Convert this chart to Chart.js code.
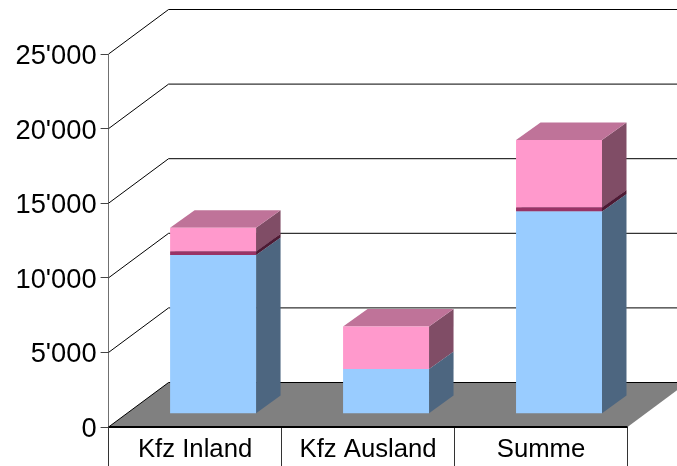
<!DOCTYPE html>
<html><head><meta charset="utf-8">
<style>html,body{margin:0;padding:0;background:#fff}canvas{display:block}</style>
<script src="https://cdn.jsdelivr.net/npm/chart.js@4"></script></head>
<body><canvas id="c" width="677" height="466"></canvas>
<script>
const categories = ['Kfz Inland', 'Kfz Ausland', 'Summe'];
const blueValues = [10630, 2990, 13550];
const darkValues = [245, 0, 270];
const pinkValues = [1585, 2850, 4520];
const yTicks = [0, 5000, 10000, 15000, 20000, 25000];

const wallDX = 60, wallDY = 44.5;
const barDX = 18, barDY = 13.3;
const depthDX = 24.5, depthDY = 17.6;
const sides = [['#4d6680', '#8099b3'], ['#4d1a33', '#73264d'], ['#804d66', '#bf7399']];

function poly(ctx, pts, fill) {
  ctx.beginPath();
  pts.forEach((p, i) => i ? ctx.lineTo(p[0], p[1]) : ctx.moveTo(p[0], p[1]));
  ctx.closePath();
  ctx.fillStyle = fill;
  ctx.fill();
}
const walls = {
  id: 'walls',
  beforeDatasetsDraw(chart) {
    const { ctx, chartArea: a, scales: { y } } = chart;
    ctx.save();
    // floor
    poly(ctx, [[a.left, a.bottom], [a.right, a.bottom], [a.right + wallDX, a.bottom - wallDY], [a.left + wallDX, a.bottom - wallDY]], '#808080');
    // wall lines
    ctx.strokeStyle = '#000';
    ctx.lineWidth = 1;
    yTicks.forEach(v => {
      const py = y.getPixelForValue(v);
      ctx.beginPath();
      ctx.moveTo(a.left, py);
      ctx.lineTo(a.left + wallDX, py - wallDY);
      ctx.lineTo(chart.width + 20, py - wallDY);
      ctx.stroke();
    });
    ctx.beginPath();
    ctx.moveTo(a.left, a.bottom);
    ctx.lineTo(a.right, a.bottom);
    ctx.lineWidth = 2;
    ctx.stroke();
    // bar sides and tops
    chart.data.datasets.forEach((ds, i) => {
      chart.getDatasetMeta(i).data.forEach(b => {
        const r = b.x + b.width / 2 + barDX, l = b.x - b.width / 2 + barDX;
        const t = b.y - barDY, u = b.base - barDY;
        if (Math.abs(u - t) < 0.01) return;
        poly(ctx, [[r, u], [r, t], [r + depthDX, t - depthDY], [r + depthDX, u - depthDY]], sides[i][0]);
        poly(ctx, [[l, t], [r, t], [r + depthDX, t - depthDY], [l + depthDX, t - depthDY]], sides[i][1]);
      });
    });
    ctx.restore();
    // shift the front faces onto the bar plane
    ctx.save();
    ctx.translate(barDX, -barDY);
  },
  afterDatasetsDraw(chart) { chart.ctx.restore(); }
};

new Chart(document.getElementById('c'), {
  type: 'bar',
  data: {
    labels: categories,
    datasets: [
      { label: 'A', data: blueValues, backgroundColor: '#99ccff', clip: false },
      { label: 'B', data: darkValues, backgroundColor: '#993366', clip: false },
      { label: 'C', data: pinkValues, backgroundColor: '#ff99cc', clip: false }
    ]
  },
  plugins: [walls],
  options: {
    responsive: false,
    animation: false,
    events: [],
    layout: { padding: { top: 54, right: 49.5, left: 0, bottom: 0 } },
    plugins: { legend: { display: false }, tooltip: { enabled: false }, title: { display: false } },
    datasets: { bar: { barPercentage: 0.497, categoryPercentage: 1, borderWidth: 0 } },
    scales: {
      x: {
        stacked: true,
        afterFit(s) { s.height = 39; },
        grid: { offset: true, drawOnChartArea: false, tickLength: 39, color: '#333' },
        border: { display: false },
        ticks: { color: '#000', padding: -32, maxRotation: 0, font: { family: 'Liberation Sans', size: 25.7 } }
      },
      y: {
        stacked: true,
        min: 0, max: 25000,
        afterFit(s) { s.width = 108.6; },
        grid: { drawOnChartArea: false, tickLength: 8, color: '#444' },
        border: { color: '#707070' },
        afterBuildTicks(s) { s.ticks = yTicks.map(v => ({ value: v })); },
        ticks: {
          color: '#000', padding: 4, labelOffset: 2.5,
          font: { family: 'Liberation Sans', size: 27.3 },
          callback: v => String(v).replace(/\B(?=(\d{3})+$)/g, "'")
        }
      }
    }
  }
});
</script></body></html>
